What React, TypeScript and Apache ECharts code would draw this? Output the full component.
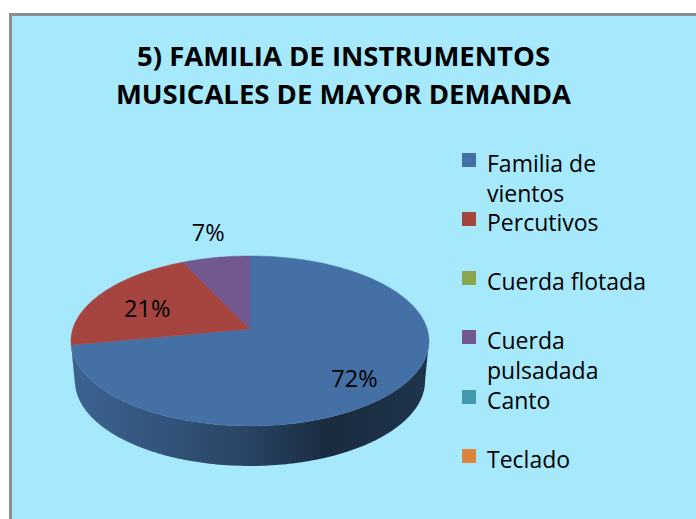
import React, { useEffect, useRef } from "react";
import * as echarts from "echarts";

const titleText = "5) FAMILIA DE INSTRUMENTOS\nMUSICALES DE MAYOR DEMANDA";
const categories = ["Familia de vientos", "Percutivos", "Cuerda flotada", "Cuerda pulsadada", "Canto", "Teclado"];
const legendLabels = ["Familia de\nvientos", "Percutivos", "Cuerda flotada", "Cuerda\npulsadada", "Canto", "Teclado"];
const values = [72, 21, 0, 7, 0, 0];
const colors = ["#4470A5", "#A64440", "#89A54E", "#71588F", "#4198AF", "#DB843D"];

const FONT = "'Open Sans', 'Noto Sans', sans-serif";
const CX = 250, CY = 329, A = 177.2, B = 83.3, K = 0.141, DEPTH = 40, BOTTOM_SCALE = 0.978;
const LEGEND_ICON = "path://M0 0H14V14H0ZM0 20L0 20";
const labelPlace = [
  { f: 0.69, dx: 4, dy: 10 },
  { f: 0.7, dx: 3, dy: 4 },
  null,
  { f: 1.34, dx: 2, dy: -5 },
  null,
  null,
];

const total = values.reduce((s, v) => s + v, 0);
const project = (deg: number, f = 1) => {
  const t = (deg * Math.PI) / 180;
  const u = Math.sin(t) * f, v = Math.cos(t) * f;
  const d = 1 + K * v;
  return [CX + (A * u) / d, CY - (B * v) / d];
};
const arcPoints = (from: number, to: number, map = (p: number[]) => p) => {
  const n = Math.max(2, Math.ceil(to - from));
  const pts: number[][] = [];
  for (let i = 0; i <= n; i++) pts.push(map(project(from + ((to - from) * i) / n)));
  return pts;
};
const sideLimit = (Math.acos(-K) * 180) / Math.PI;
const lower = (p: number[]) => [CX + (p[0] - CX) * BOTTOM_SCALE, p[1] + DEPTH];

function renderSlice(index: number) {
  return (_params: any, api: any) => {
    const value = api.value(0);
    if (!value) return { type: "group", children: [] };
    const before = values.slice(0, index).reduce((s, v) => s + v, 0);
    const start = (before / total) * 360;
    const end = ((before + value) / total) * 360;
    const base = api.visual("color");
    const children: any[] = [];
    const a = Math.max(start, sideLimit), b = Math.min(end, 360 - sideLimit);
    if (a < b) {
      const top = arcPoints(a, b);
      const bot = arcPoints(a, b, lower).reverse();
      const shade = (m: number) => echarts.color.lerp(m, ["#000000", base]);
      children.push({
        type: "polygon",
        shape: { points: top.concat(bot) },
        style: {
          fill: new echarts.graphic.LinearGradient(CX - A, 0, CX + A, 0, [
            { offset: 0, color: shade(0.88) },
            { offset: 0.3, color: shade(0.72) },
            { offset: 0.5, color: shade(0.6) },
            { offset: 0.72, color: shade(0.38) },
            { offset: 1, color: shade(0.46) },
          ], true),
        },
      });
    }
    children.push({
      type: "polygon",
      shape: { points: [[CX, CY]].concat(arcPoints(start, end)) },
      style: { fill: base, stroke: base, lineWidth: 0.5 },
    });
    const place = labelPlace[index];
    if (place) {
      const c = project((start + end) / 2, place.f);
      children.push({
        type: "text",
        z2: 10,
        style: {
          x: c[0] + place.dx,
          y: c[1] + place.dy,
          text: Math.round((value / total) * 100) + "%",
          fill: "#000000",
          font: "23.5px " + FONT,
          align: "center",
          verticalAlign: "middle",
        },
      });
    }
    return { type: "group", children };
  };
}

const legendIconY = [160, 219, 278, 337, 397, 456];

export default function App() {
  const ref = useRef<HTMLDivElement>(null);
  useEffect(() => {
    const chart = echarts.init(ref.current!, undefined, { renderer: "svg" });
    chart.setOption({
      animation: false,
      color: colors,
      backgroundColor: "#FFFFFF",
      graphic: [
        {
          type: "rect",
          z: -10,
          silent: true,
          shape: { x: 10.5, y: 14.5, width: 720, height: 540 },
          style: { fill: "#A6E9FD", stroke: "#8C8C94", lineWidth: 3 },
        },
      ],
      title: {
        text: titleText,
        left: 338.5,
        top: 31,
        textAlign: "center",
        textStyle: { fontFamily: FONT, fontWeight: "bold", fontSize: 27.5, lineHeight: 38, color: "#000000" },
      },
      legend: categories.map((name, i) => {
        const lines = legendLabels[i].split("\n").length;
        return {
          data: [{ name, icon: LEGEND_ICON }],
          orient: "vertical",
          left: 457,
          top: legendIconY[i] - (lines > 1 ? 47 : 14),
          itemWidth: 14,
          itemHeight: 20,
          selectedMode: false,
          formatter: () => (lines > 1 ? "\n" + legendLabels[i] : legendLabels[i]),
          textStyle: {
            fontFamily: FONT,
            fontSize: 23,
            lineHeight: lines > 1 ? 30 : 24,
            color: "#000000",
            padding: [0, 0, 0, 6],
          },
        };
      }),
      series: categories.map((name, i) => ({
        type: "custom",
        name,
        coordinateSystem: "none",
        data: [values[i]],
        renderItem: renderSlice(i),
      })),
    });
    return () => chart.dispose();
  }, []);
  return <div ref={ref} style={{ position: "fixed", left: 0, top: 0, width: 696, height: 519 }} />;
}
